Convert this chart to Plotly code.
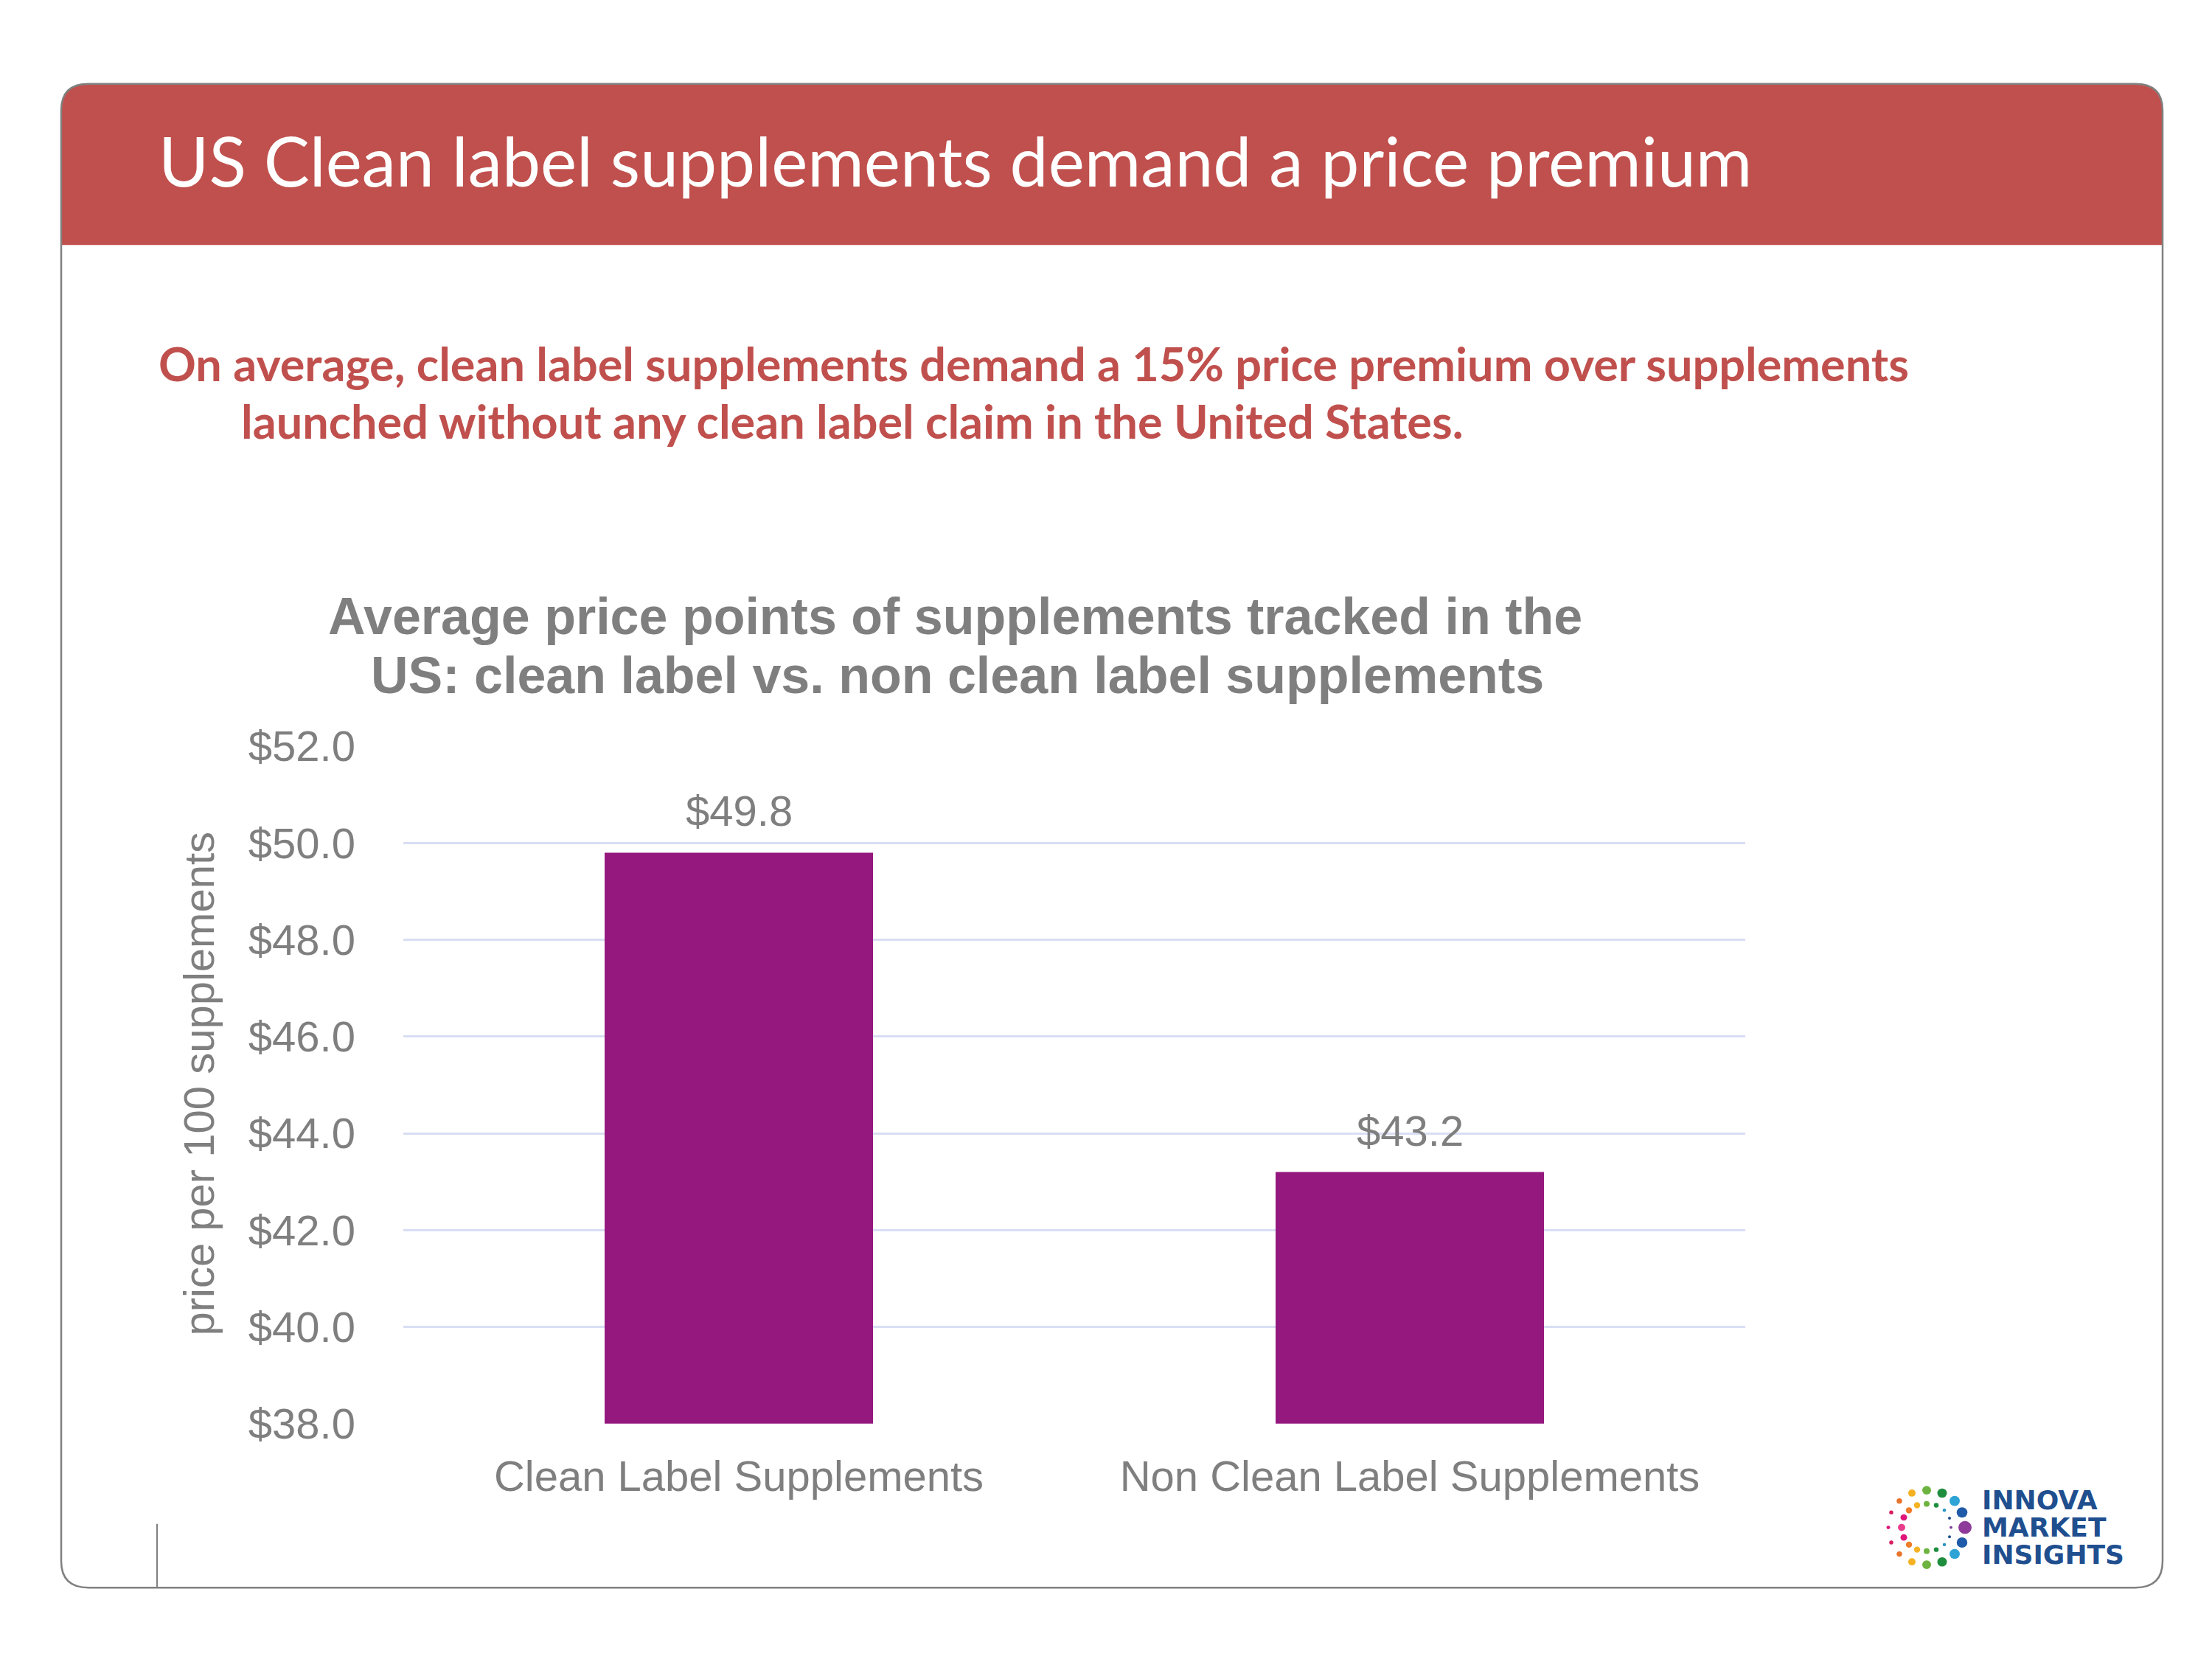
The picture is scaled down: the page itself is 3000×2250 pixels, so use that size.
import plotly.graph_objects as go

# chart data
categories = ["Clean Label Supplements", "Non Clean Label Supplements"]
prices = [49.8, 43.2]
y_ticks = [38, 40, 42, 44, 46, 48, 50, 52]
y_tick_labels = ["$38.0", "$40.0", "$42.0", "$44.0", "$46.0", "$48.0", "$50.0", "$52.0"]

W, H = 3000, 2250
GRAY = "#7F7F7F"
RED = "#C0504D"
ARIAL = "Liberation Sans, Arial, sans-serif"
CALIBRI = "Lato, Calibri, sans-serif"


def px(x):
    return x / W


def py(y):
    return 1 - y / H


def rounded_path(x0, y0, x1, y1, r, top=True, bottom=True):
    # rounded rectangle in paper coords, (x0, y0) top-left in pixels
    rb = r if bottom else 0
    rt = r if top else 0
    pts = [
        f"M {px(x0 + rt)},{py(y0)}",
        f"L {px(x1 - rt)},{py(y0)}",
        f"Q {px(x1)},{py(y0)} {px(x1)},{py(y0 + rt)}",
        f"L {px(x1)},{py(y1 - rb)}",
        f"Q {px(x1)},{py(y1)} {px(x1 - rb)},{py(y1)}",
        f"L {px(x0 + rb)},{py(y1)}",
        f"Q {px(x0)},{py(y1)} {px(x0)},{py(y1 - rb)}",
        f"L {px(x0)},{py(y0 + rt)}",
        f"Q {px(x0)},{py(y0)} {px(x0 + rt)},{py(y0)}",
        "Z",
    ]
    return " ".join(pts)


fig = go.Figure()

fig.add_trace(go.Bar(
    x=categories,
    y=prices,
    marker=dict(color="#95187F", line=dict(width=0)),
    hoverinfo="x+y",
))

shapes = [
    # red header band
    dict(type="path", xref="paper", yref="paper", layer="below",
         path=rounded_path(75, 75, 2925, 300, 37, bottom=False),
         fillcolor=RED, line=dict(width=0)),
    # card border
    dict(type="path", xref="paper", yref="paper",
         path=rounded_path(75, 75, 2925, 2175, 37),
         fillcolor="rgba(0,0,0,0)", line=dict(color="#808080", width=2.5)),
    # little divider at the bottom left
    dict(type="line", xref="paper", yref="paper",
         x0=px(205), x1=px(205), y0=py(2086), y1=py(2175),
         line=dict(color="#808080", width=2)),
]

# logo dots: (dx, dy, diameter, color) relative to ring centre, top half
ring_top = [
    (-52, 0, 5, "#E0157A"),
    (-48, -21, 5.5, "#D81B60"),
    (-37, -37, 7.5, "#E8742A"),
    (-20, -48, 10, "#F4B121"),
    (0, -52, 12, "#6DB33F"),
    (21, -48, 13, "#1E8E3E"),
    (38, -37, 14, "#2EA3D6"),
    (48, -21, 14.5, "#1F5BA8"),
    (52, 0, 18, "#8E3A9A"),
    (-34, 0, 10, "#E83E8C"),
    (-31, -14, 9, "#E0157A"),
    (-24, -24, 8.5, "#EE7D2A"),
    (-13, -31, 8.5, "#F5B324"),
    (0, -33, 8, "#6DB33F"),
    (13, -31, 6.5, "#1E8E3E"),
    (24, -24, 4.5, "#2B94C6"),
    (31, -13, 4, "#1F4E8C"),
    (33, 0, 4, "#7A3B98"),
]
cx, cy = 2605, 2091
dots = ring_top + [(dx, -dy, d, c) for dx, dy, d, c in ring_top if dy != 0]
for dx, dy, d, c in dots:
    r = d / 2
    shapes.append(dict(type="circle", xref="paper", yref="paper",
                       x0=px(cx + dx - r), x1=px(cx + dx + r),
                       y0=py(cy + dy + r), y1=py(cy + dy - r),
                       fillcolor=c, line=dict(width=0)))

annotations = [
    dict(text="US Clean label supplements demand a price premium",
         x=px(205), y=py(181), xanchor="left", yanchor="middle",
         font=dict(family=CALIBRI, size=93, color="white")),
    dict(text="On average, clean label supplements demand a 15% price premium over supplements",
         x=px(205), y=py(465), xanchor="left", yanchor="middle",
         font=dict(family=CALIBRI, size=63, color=RED, weight="bold")),
    dict(text="launched without any clean label claim in the United States.",
         x=px(317), y=py(545), xanchor="left", yanchor="middle",
         font=dict(family=CALIBRI, size=63, color=RED, weight="bold")),
    dict(text="Average price points of supplements tracked in the",
         x=px(1287), y=py(819), xanchor="center", yanchor="middle",
         font=dict(family=ARIAL, size=70, color=GRAY, weight="bold")),
    dict(text="US: clean label vs. non clean label supplements",
         x=px(1290), y=py(901), xanchor="center", yanchor="middle",
         font=dict(family=ARIAL, size=70, color=GRAY, weight="bold")),
    dict(text="price per 100 supplements", textangle=-90,
         x=px(262), y=py(1471), xanchor="center", yanchor="middle",
         font=dict(family=ARIAL, size=58, color=GRAY)),
]

for name, v in zip(categories, prices):
    annotations.append(dict(text=f"${v:.1f}", x=name, y=v, xref="x", yref="y",
                            xanchor="center", yanchor="bottom", yshift=22,
                            showarrow=False,
                            font=dict(family=ARIAL, size=58, color=GRAY)))

for i, word in enumerate(["INNOVA", "MARKET", "INSIGHTS"]):
    annotations.append(dict(text=word, x=px(2678), y=py(2053 + 38 * i),
                            xanchor="left", yanchor="middle",
                            font=dict(family="DejaVu Sans, sans-serif", size=36,
                                      color="#1F4F8F", weight="bold")))

for a in annotations:
    a.setdefault("xref", "paper")
    a.setdefault("yref", "paper")
    a.setdefault("showarrow", False)

fig.update_layout(
    width=W, height=H,
    margin=dict(l=0, r=0, t=0, b=0),
    paper_bgcolor="white",
    plot_bgcolor="white",
    showlegend=False,
    bargap=0.6,
    shapes=shapes,
    annotations=annotations,
    xaxis=dict(
        domain=[px(539), px(2359)],
        showgrid=False, showline=False, zeroline=False, ticks="",
        tickfont=dict(family=ARIAL, size=58, color=GRAY),
        ticklabelstandoff=32,
    ),
    yaxis=dict(
        domain=[py(1946), py(1000)],
        range=[38, 52],
        tickmode="array",
        tickvals=y_ticks,
        ticktext=y_tick_labels,
        showgrid=True, gridcolor="#D9DEF4", gridwidth=2.5,
        showline=False, zeroline=False, ticks="",
        tickfont=dict(family=ARIAL, size=58, color=GRAY),
        ticklabelstandoff=64,
    ),
)

fig.write_html("out.html")
